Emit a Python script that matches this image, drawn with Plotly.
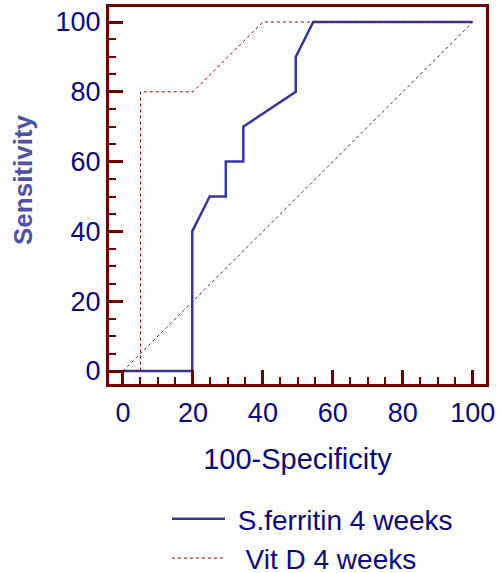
import plotly.graph_objects as go

# Data
ferritin_fpr = [0, 19.8, 19.8, 24.8, 29.4, 29.4, 34.4, 34.4, 49.4, 49.4, 54.4, 100]
ferritin_sens = [0, 0, 40, 50, 50, 60, 60, 70, 80, 90, 100, 100]
vitd_fpr = [0, 5, 5, 20, 40, 100]
vitd_sens = [0, 0, 80, 80, 100, 100]
diag = [0, 100]
tick_vals = [0, 20, 40, 60, 80, 100]

FRAME = "#6e0000"
NAVY = "#0a0a80"
FONT = "Liberation Sans, Arial, sans-serif"

fig = go.Figure()
fig.add_trace(go.Scatter(x=diag, y=diag, mode="lines", showlegend=False,
                         line=dict(color="#333333", width=1, dash="dot"), hoverinfo="skip"))
fig.add_trace(go.Scatter(x=ferritin_fpr, y=ferritin_sens, mode="lines",
                         name="\u00a0S.ferritin 4 weeks",
                         line=dict(color="#3535a0", width=2.5)))
fig.add_trace(go.Scatter(x=vitd_fpr, y=vitd_sens, mode="lines",
                         name="\u00a0\u00a0Vit D 4 weeks",
                         line=dict(color="#a00000", width=1, dash="dot")))

axis_common = dict(
    showline=True, mirror=True, linecolor=FRAME, linewidth=3,
    ticks="inside", ticklen=14, tickwidth=3, tickcolor=FRAME,
    tickvals=tick_vals, showgrid=False, zeroline=False,
    tickfont=dict(family=FONT, size=27, color=NAVY),
    minor=dict(ticks="inside", ticklen=7, tickwidth=2, tickcolor=FRAME, dtick=5, showgrid=False),
)

L, R, T, B = 109, 14, 7, 189
pw = 500 - L - R
ph = 573 - T - B

fig.update_layout(
    width=500, height=573,
    margin=dict(l=L, r=R, t=T, b=B, autoexpand=False),
    plot_bgcolor="white", paper_bgcolor="white",
    font=dict(family=FONT, color=NAVY),
    xaxis=dict(range=[-4.0, 103.8], **axis_common, ticklabelstandoff=3,
               title=dict(text="100-Specificity", font=dict(size=29, color=NAVY), standoff=22)),
    yaxis=dict(range=[-3.72, 104.3], **axis_common),
    showlegend=True,
    legend=dict(x=(167 - L) / pw, y=(573 - B - 494) / ph, xanchor="left", yanchor="top",
                bgcolor="rgba(0,0,0,0)",
                font=dict(size=28, color=NAVY), itemwidth=53, tracegroupgap=0),
    annotations=[dict(text="Sensitivity", x=(23 - L) / pw, y=(573 - B - 180) / ph,
                      xref="paper", yref="paper", textangle=-90, showarrow=False,
                      xanchor="center", yanchor="middle",
                      font=dict(size=26, color="#5050a8", family=FONT, weight="bold"))],
)

fig.write_html("out.html", config={"displayModeBar": False},
               post_script="document.body.style.margin='0';")
